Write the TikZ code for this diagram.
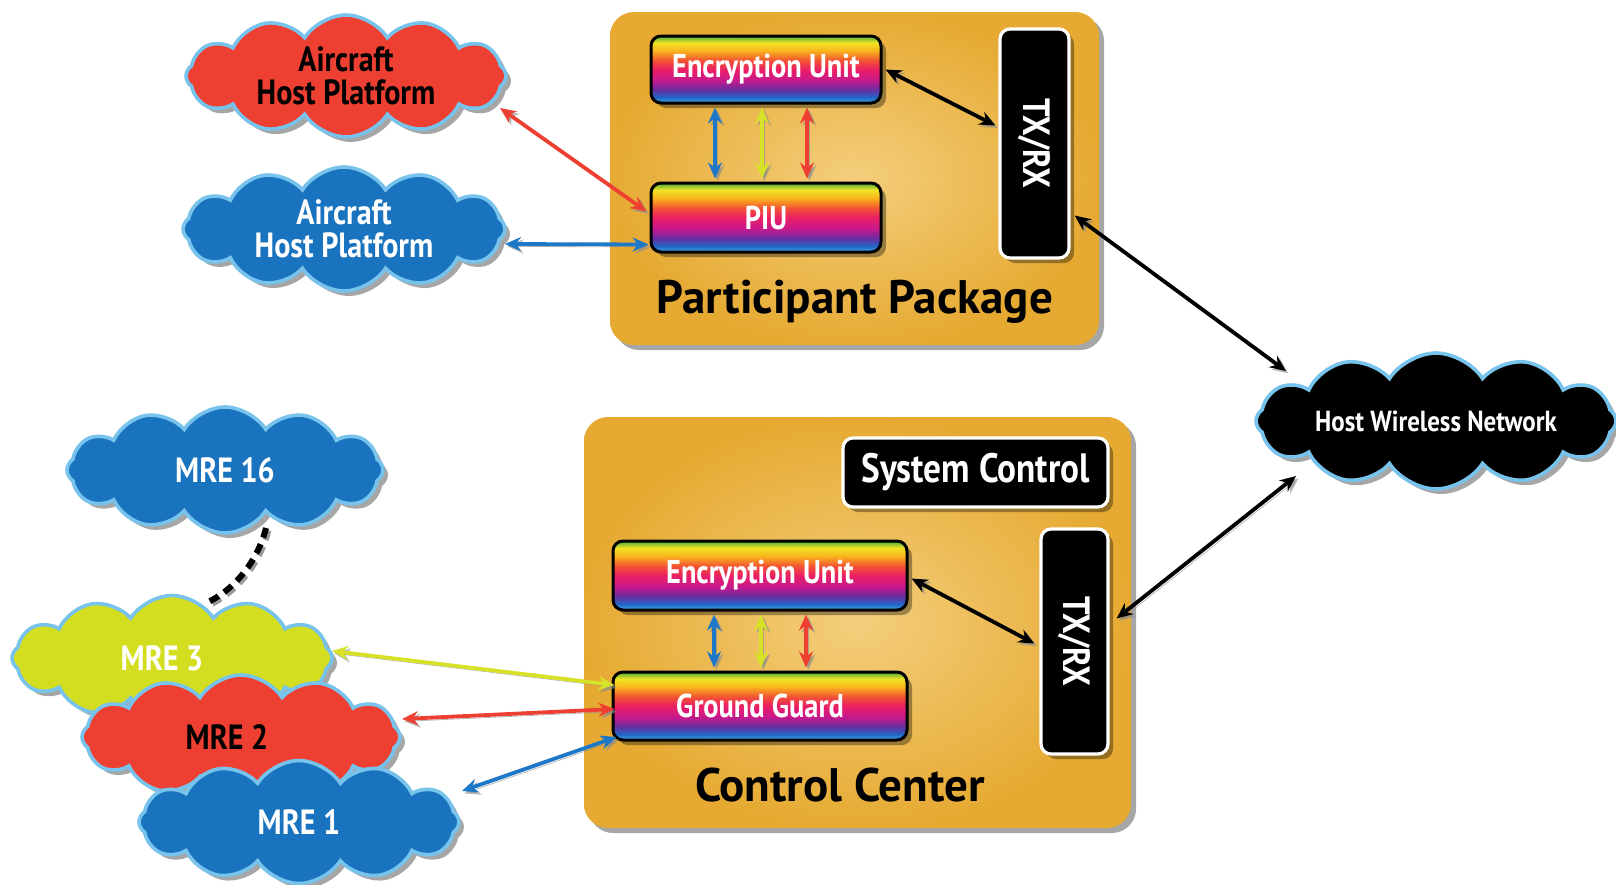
\documentclass[tikz,border=0pt]{standalone}
\usepackage{fontspec}
\usepackage{graphicx}
\setmainfont{PT Sans}[FakeStretch=0.86]
\newfontfamily\widefont{PT Sans}
\usetikzlibrary{shapes.symbols,shadows,arrows.meta,calc}
\definecolor{rbA}{RGB}{70,175,230}
\definecolor{rbB}{RGB}{30,105,200}
\definecolor{rbC}{RGB}{105,45,160}
\definecolor{rbD}{RGB}{200,25,140}
\definecolor{rbE}{RGB}{235,30,100}
\definecolor{rbF}{RGB}{242,85,50}
\definecolor{rbG}{RGB}{250,180,30}
\definecolor{rbH}{RGB}{240,228,35}
\definecolor{rbI}{RGB}{70,170,60}
\definecolor{pkgin}{RGB}{244,206,125}
\definecolor{pkgout}{RGB}{230,170,50}
\definecolor{cred}{RGB}{237,64,50}
\definecolor{cblue}{RGB}{25,115,190}
\definecolor{cyel}{RGB}{212,222,32}
\definecolor{cedge}{RGB}{120,195,235}
\definecolor{ablue}{RGB}{30,120,200}
\definecolor{ayel}{RGB}{215,225,40}
\pgfdeclareverticalshading{rainbow}{100bp}{color(0bp)=(rbA); color(25bp)=(rbA); color(29bp)=(rbB); color(35bp)=(rbC); color(42bp)=(rbD); color(50bp)=(rbE); color(57bp)=(rbF); color(64bp)=(rbG); color(70bp)=(rbH); color(75bp)=(rbI); color(100bp)=(rbI)}
\begin{document}
\begin{tikzpicture}[x=0.5pt,y=-0.5pt,
  shd/.style={drop shadow={shadow xshift=2.5pt,shadow yshift=-2.5pt,opacity=0.35,fill=black}},
  pkg/.style={rounded corners=12pt, shading=radial, inner color=pkgin, outer color=pkgout, inner sep=0pt, shd},
  rbox/.style={draw=black, line width=1.5pt, rounded corners=5pt, shading=rainbow, text=white, inner sep=0pt,
    font=\bfseries\fontsize{16.5}{18}\selectfont, shd},
  blk/.style={fill=black, draw=white, line width=1.6pt, rounded corners=5pt, text=white, inner sep=0pt,
    font=\bfseries\fontsize{19}{21}\selectfont, shd},
  cld/.style={cloud, cloud puffs=12, cloud puff arc=115, aspect=2.5, draw=cedge, line width=1.8pt,
    inner sep=0pt, align=center, font=\bfseries\fontsize{17.5}{16.5}\selectfont, shd},
  big/.style={font=\widefont\bfseries\fontsize{23.5}{25}\selectfont, text=black, inner sep=0pt},
  arr/.style={{Stealth[length=8pt,width=7pt]}-{Stealth[length=8pt,width=7pt]}, line width=1.9pt,
    preaction={draw=black!45, opacity=0.6, transform canvas={shift={(1.2pt,-1.2pt)}}}}
]
\fill[white] (0,0) rectangle (1616,884);
\useasboundingbox (0,0) rectangle (1616,884);

% Participant Package
\node[pkg, minimum width=244.5pt, minimum height=166.5pt] (pp) at (854.5,178.5) {};
\node[big] (pplabel) at (855,302) {Participant Package};
\node[rbox, minimum width=115pt, minimum height=33.5pt] (eu1) at (766,69.5) {Encryption Unit};
\node[rbox, minimum width=115pt, minimum height=34.5pt] (piu) at (766,217.5) {PIU};
\node[blk, minimum width=34.5pt, minimum height=114.5pt] (tx1) at (1034.5,143.5) {\rotatebox{-90}{TX/RX}};

% Control Center
\node[pkg, minimum width=273.5pt, minimum height=205.5pt] (cc) at (857.5,622.5) {};
\node[big] (cclabel) at (840,785) {Control Center};
\node[blk, font=\bfseries\fontsize{20.5}{22}\selectfont, minimum width=132.5pt, minimum height=34.5pt] (sys) at (975.5,472.5) {System Control};
\node[rbox, minimum width=147pt, minimum height=34.5pt] (eu2) at (760,575.5) {Encryption Unit};
\node[rbox, minimum width=147pt, minimum height=34pt] (gg) at (760,706) {Ground Guard};
\node[blk, minimum width=33.5pt, minimum height=112.5pt] (tx2) at (1074.5,641.5) {\rotatebox{-90}{TX/RX}};

% clouds
\node[cld, aspect=3.6, fill=cred, text=black, minimum width=160pt, minimum height=56pt] (ahpr) at (346,76) {Aircraft\\Host Platform};
\node[cld, aspect=3.2, fill=cblue, text=white, minimum width=161pt, minimum height=62pt] (ahpb) at (344,229) {Aircraft\\Host Platform};
\node[cld, aspect=4.5, fill=black, text=white, font=\bfseries\fontsize{14.5}{16}\selectfont, minimum width=180pt, minimum height=68pt] (hwn) at (1436,421) {Host Wireless Network};
\node[cld, fill=cblue, text=white, minimum width=158pt, minimum height=63pt] (m16) at (225,470) {MRE 16};
\node[cld, fill=cyel, text=white, minimum width=160pt, minimum height=62.5pt] (m3) at (172,658) {MRE 3\hspace*{10pt}};
\node[cld, fill=cred, text=black, minimum width=159pt, minimum height=62pt] (m2) at (241,737) {MRE 2\hspace*{14pt}};
\node[cld, fill=cblue, text=white, minimum width=160pt, minimum height=61.5pt] (m1) at (299,822) {MRE 1};

% arrows participant package
\draw[arr, ablue] ($(eu1.south)+(-51,3)$) -- ($(piu.north)+(-51,-3)$);
\draw[arr, ayel] ($(eu1.south)+(-4,3)$) -- ($(piu.north)+(-4,-3)$);
\draw[arr, cred] ($(eu1.south)+(41,3)$) -- ($(piu.north)+(41,-3)$);
\draw[arr, black] ($(eu1.east)+(3,0)$) -- ($(tx1.west)+(-3,-18)$);
\draw[arr, cred] ($(ahpr.center)+(154,32)$) -- ($(piu.west)+(-3,-6)$);
\draw[arr, ablue] ($(ahpb.center)+(161,15)$) -- ($(piu.west)+(-1,27)$);
\draw[arr, black] ($(tx1.east)+(4,72)$) -- ($(hwn.center)+(-150,-50)$);

% arrows control center
\draw[arr, ablue] ($(eu2.south)+(-46,3)$) -- ($(gg.north)+(-46,-3)$);
\draw[arr, ayel] ($(eu2.south)+(1,3)$) -- ($(gg.north)+(1,-3)$);
\draw[arr, cred] ($(eu2.south)+(46,3)$) -- ($(gg.north)+(46,-3)$);
\draw[arr, black] ($(eu2.east)+(3,3)$) -- ($(tx2.west)+(-5,2)$);
\draw[arr, black] ($(tx2.east)+(7,-23)$) -- ($(hwn.center)+(-140,55)$);
\draw[arr, ayel] ($(m3.center)+(160,-7)$) -- ($(gg.west)+(3,-21)$);
\draw[arr, cred] ($(gg.west)+(3,3)$) -- ($(m2.center)+(161,-18)$);
\draw[arr, ablue] ($(gg.west)+(5,31)$) -- ($(m1.center)+(163,-31)$);

% dashed link
\coordinate (d1) at ($(m16.center)+(41,58)$);
\coordinate (d2) at ($(m3.center)+(34,-55)$);
\draw[black!40, line width=3pt, dash pattern=on 5pt off 3.5pt, transform canvas={shift={(1.2pt,-1.2pt)}}] (d1) .. controls ($(d1)+(-8,32)$) and ($(d2)+(29,-13)$) .. (d2);
\draw[black, line width=3pt, dash pattern=on 5pt off 3.5pt] (d1) .. controls ($(d1)+(-8,32)$) and ($(d2)+(29,-13)$) .. (d2);
\end{tikzpicture}
\end{document}
